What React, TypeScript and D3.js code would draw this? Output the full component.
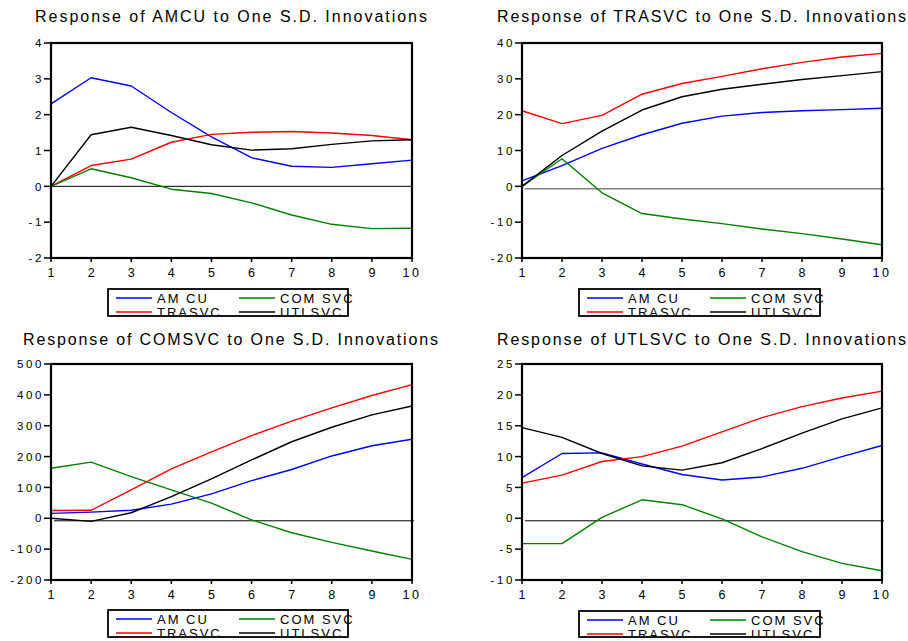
import React from "react";
import * as d3 from "d3";

const periods = [1, 2, 3, 4, 5, 6, 7, 8, 9, 10];
const legendLabels = ["AM CU", "TRASVC", "COM SVC", "UTLSVC"];
const seriesColors = ["#0000ff", "#ff0000", "#008000", "#000000"];

// Response of AMCU
const amcuAmcu = [2.3, 3.03, 2.8, 2.06, 1.38, 0.8, 0.56, 0.53, 0.63, 0.73];
const amcuTra = [0, 0.58, 0.76, 1.23, 1.45, 1.51, 1.53, 1.49, 1.42, 1.3];
const amcuCom = [0, 0.49, 0.24, -0.08, -0.2, -0.46, -0.8, -1.06, -1.18, -1.17];
const amcuUtl = [0, 1.44, 1.65, 1.42, 1.16, 1.01, 1.05, 1.17, 1.27, 1.3];

// Response of TRASVC
const traAmcu = [1.5, 5.8, 10.6, 14.4, 17.6, 19.6, 20.6, 21.1, 21.4, 21.8];
const traTra = [21.1, 17.5, 19.8, 25.7, 28.7, 30.7, 32.8, 34.6, 36.1, 37.1];
const traCom = [0, 7.7, -1.8, -7.6, -9.1, -10.4, -11.9, -13.2, -14.7, -16.3];
const traUtl = [0, 8.6, 15.4, 21.3, 25, 27.1, 28.5, 29.8, 30.9, 32];

// Response of COMSVC
const comAmcu = [16, 20, 26, 46, 79, 122, 158, 202, 235, 256];
const comTra = [25, 26, 92, 160, 215, 268, 315, 358, 398, 433];
const comCom = [162, 182, 135, 92, 49, -5, -47, -78, -106, -133];
const comUtl = [0, -10, 18, 70, 128, 189, 248, 295, 335, 364];

// Response of UTLSVC
const utlAmcu = [6.6, 10.5, 10.6, 8.8, 7.1, 6.2, 6.7, 8.1, 10.0, 11.8];
const utlTra = [5.7, 7.0, 9.2, 10.0, 11.7, 14.0, 16.3, 18.1, 19.5, 20.6];
const utlCom = [-4.1, -4.1, 0.15, 3.0, 2.2, -0.1, -3.0, -5.4, -7.3, -8.5];
const utlUtl = [14.7, 13.1, 10.5, 8.5, 7.8, 9.0, 11.3, 13.8, 16.1, 17.9];

const ticksA = [-2, -1, 0, 1, 2, 3, 4];
const ticksB = [-20, -10, 0, 10, 20, 30, 40];
const ticksC = [-200, -100, 0, 100, 200, 300, 400, 500];
const ticksD = [-10, -5, 0, 5, 10, 15, 20, 25];

const titles = [
  "Response of AMCU to One S.D. Innovations",
  "Response of TRASVC to One S.D. Innovations",
  "Response of COMSVC to One S.D. Innovations",
  "Response of UTLSVC to One S.D. Innovations",
];

const FONT = "'Liberation Sans', Arial, sans-serif";

type PanelCfg = {
  id: string;
  title: string;
  titleX: number;
  titleY: number;
  titleW: number;
  left: number;
  right: number;
  top: number;
  bottom: number;
  ticks: number[];
  series: number[][];
  zeroDx: number;
  zeroDy: number;
  zeroColor: string;
  zeroW: number;
  legendX: number;
  legendY: number;
  legendW: number;
  legendH: number;
};

const panels: PanelCfg[] = [
  {
    id: "a", title: titles[0], titleX: 231, titleY: 22, titleW: 392,
    left: 51, right: 412, top: 43, bottom: 258, ticks: ticksA,
    series: [amcuAmcu, amcuTra, amcuCom, amcuUtl],
    zeroDx: 0, zeroDy: 0, zeroColor: "#000", zeroW: 1,
    legendX: 108, legendY: 289, legendW: 240, legendH: 27,
  },
  {
    id: "b", title: titles[1], titleX: 701.5, titleY: 22, titleW: 409,
    left: 522, right: 882, top: 43, bottom: 258, ticks: ticksB,
    series: [traAmcu, traTra, traCom, traUtl],
    zeroDx: 3, zeroDy: 2.5, zeroColor: "#808080", zeroW: 1.5,
    legendX: 579, legendY: 289, legendW: 241, legendH: 27,
  },
  {
    id: "c", title: titles[2], titleX: 230.5, titleY: 345, titleW: 415,
    left: 51, right: 412, top: 364, bottom: 580, ticks: ticksC,
    series: [comAmcu, comTra, comCom, comUtl],
    zeroDx: 3, zeroDy: 2.5, zeroColor: "#000", zeroW: 1,
    legendX: 108, legendY: 610, legendW: 240, legendH: 27,
  },
  {
    id: "d", title: titles[3], titleX: 701.5, titleY: 345, titleW: 409,
    left: 522, right: 882, top: 364, bottom: 580, ticks: ticksD,
    series: [utlAmcu, utlTra, utlCom, utlUtl],
    zeroDx: 3, zeroDy: 2.5, zeroColor: "#000", zeroW: 1,
    legendX: 579, legendY: 611, legendW: 241, legendH: 26,
  },
];

function Panel({ p }: { p: PanelCfg }) {
  const x = d3.scaleLinear().domain([1, 10]).range([p.left, p.right]);
  const y = d3
    .scaleLinear()
    .domain([p.ticks[0], p.ticks[p.ticks.length - 1]])
    .range([p.bottom, p.top]);
  const line = d3
    .line<number>()
    .x((_, i) => x(periods[i]))
    .y((v) => y(v));

  const lx = p.legendX;
  const ly = p.legendY;
  const legendItems = [
    { c: seriesColors[0], t: legendLabels[0], col: 0, row: 0 },
    { c: seriesColors[1], t: legendLabels[1], col: 0, row: 1 },
    { c: seriesColors[2], t: legendLabels[2], col: 1, row: 0 },
    { c: seriesColors[3], t: legendLabels[3], col: 1, row: 1 },
  ];

  return (
    <g>
      <text
        x={p.titleX}
        y={p.titleY}
        textAnchor="middle"
        fontSize={16}
        fontFamily={FONT}
        textLength={p.titleW}
        lengthAdjust="spacing"
        fill="#000"
      >
        {p.title}
      </text>

      {/* zero line */}
      <line
        x1={p.left + p.zeroDx}
        x2={p.right + (p.zeroDx ? 2 : 0)}
        y1={y(0) + p.zeroDy}
        y2={y(0) + p.zeroDy}
        stroke={p.zeroColor}
        strokeWidth={p.zeroW}
      />

      {/* series */}
      {p.series.map((s, i) => (
        <path
          key={i}
          d={line(s) || ""}
          fill="none"
          stroke={seriesColors[i]}
          strokeWidth={1.4}
          strokeLinejoin="round"
        />
      ))}

      {/* frame */}
      <rect
        x={p.left}
        y={p.top}
        width={p.right - p.left}
        height={p.bottom - p.top}
        fill="none"
        stroke="#000"
        strokeWidth={2.2}
      />

      {/* y ticks */}
      {p.ticks.map((t) => (
        <g key={t}>
          <line x1={p.left - 7} x2={p.left} y1={y(t)} y2={y(t)} stroke="#000" strokeWidth={1.5} />
          <text
            x={p.left - 7}
            y={y(t) + 4.2}
            textAnchor="end"
            fontSize={11.5}
            letterSpacing={2.6}
            fontFamily={FONT}
            fill="#000"
          >
            {String(t)}
          </text>
        </g>
      ))}

      {/* x ticks */}
      {periods.map((t) => (
        <g key={t}>
          <line x1={x(t)} x2={x(t)} y1={p.bottom} y2={p.bottom + 4} stroke="#000" strokeWidth={1.5} />
          <text
            x={x(t)}
            y={p.bottom + 18.5}
            textAnchor="middle"
            fontSize={12.5}
            letterSpacing={t >= 10 ? 2.5 : 0}
            fontFamily={FONT}
            fill="#000"
          >
            {String(t)}
          </text>
        </g>
      ))}

      {/* legend */}
      <clipPath id={"lc" + p.id}>
        <rect x={lx - 5} y={ly - 2} width={p.legendW + 20} height={p.legendH + 1} />
      </clipPath>
      <rect x={lx} y={ly} width={p.legendW} height={p.legendH} fill="#fff" />
      <g clipPath={`url(#lc${p.id})`}>
        {legendItems.map((it, k) => {
          const bx = lx + (it.col === 0 ? 8 : 131);
          const lyy = ly + (it.row === 0 ? 9 : 23);
          const ty = ly + (it.row === 0 ? 14 : 27.5);
          return (
            <g key={k}>
              <line x1={bx} x2={bx + 36} y1={lyy} y2={lyy} stroke={it.c} strokeWidth={1.6} />
              <text
                x={bx + 41}
                y={ty}
                fontSize={13}
                letterSpacing={2}
                fontFamily={FONT}
                fill="#000"
              >
                {it.t}
              </text>
            </g>
          );
        })}
      </g>
      <rect
        x={lx}
        y={ly}
        width={p.legendW}
        height={p.legendH}
        fill="none"
        stroke="#000"
        strokeWidth={1.8}
      />
    </g>
  );
}

export default function App() {
  return (
    <svg
      width={908}
      height={641}
      style={{ position: "absolute", left: 0, top: 0, background: "#fff" }}
    >
      <rect x={0} y={0} width={908} height={641} fill="#fff" />
      {panels.map((p) => (
        <Panel key={p.id} p={p} />
      ))}
    </svg>
  );
}
